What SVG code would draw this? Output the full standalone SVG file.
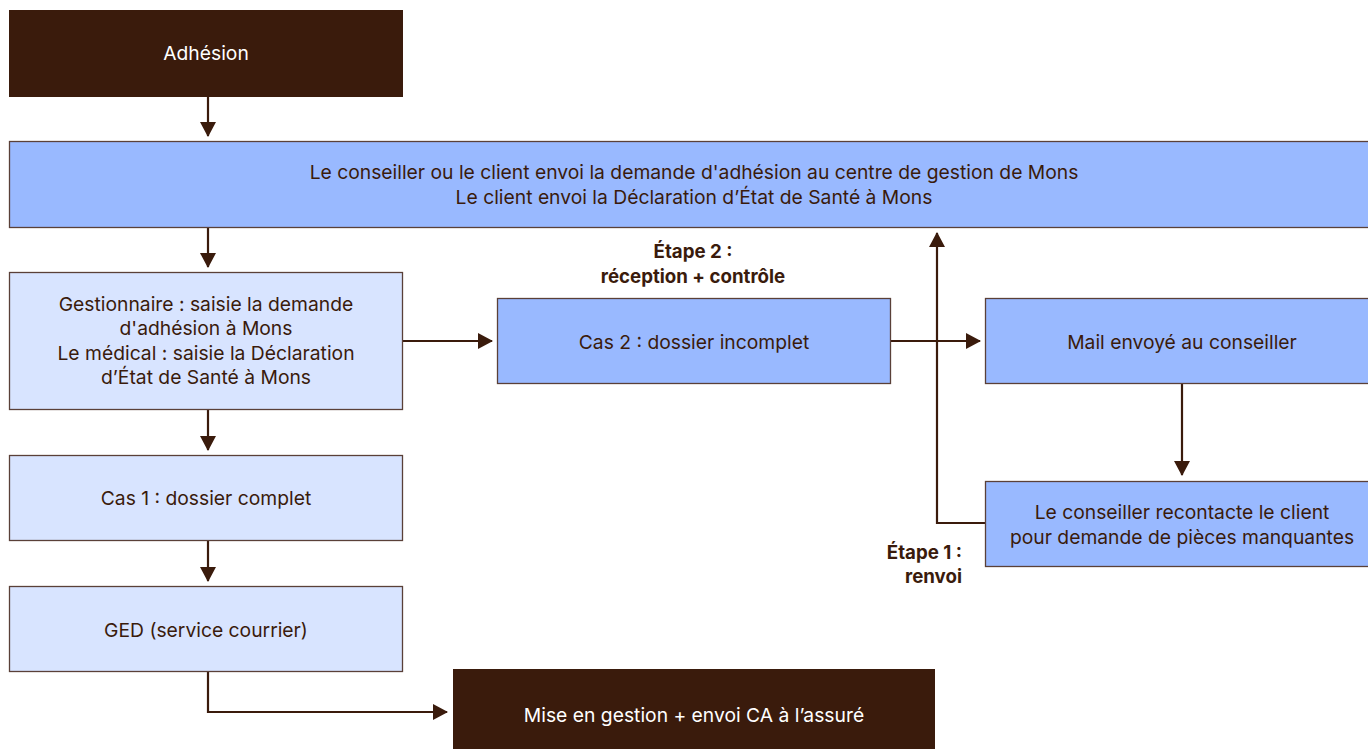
<svg xmlns="http://www.w3.org/2000/svg" width="1368" height="749" viewBox="0 0 1368 749">
<defs>
<marker id="ah" markerUnits="userSpaceOnUse" markerWidth="16" markerHeight="16" refX="14" refY="8" orient="auto">
<path d="M0,0 L15,8 L0,16 Z" fill="#3a1b0c"/>
</marker>
<style>
.dark{fill:#3a1b0c;stroke:#3a1b0c;stroke-width:1}
.blue{fill:#99b9ff;stroke:#5a4038;stroke-width:1.3}
.light{fill:#d8e4ff;stroke:#5a4038;stroke-width:1.3}
text{font-family:Inter,"Noto Sans","Liberation Sans",sans-serif;font-size:19.3px;text-anchor:middle}
.tw{fill:#ffffff}
.tb{fill:#3a1b0c}
.lbl{fill:#3a1b0c;font-weight:bold;font-size:18.7px}
.end{text-anchor:end}
.con{fill:none;stroke:#3a1b0c;stroke-width:2.2;marker-end:url(#ah)}
</style>
</defs>
<rect width="1368" height="749" fill="#ffffff"/>
<g id="connectors">
<path class="con" d="M208,96 V136"/>
<path class="con" d="M208,227 V267"/>
<path class="con" d="M402,341 H492"/>
<path class="con" d="M890,341 H980"/>
<path class="con" d="M1182,383 V475"/>
<path class="con" d="M985,523 H937 V233"/>
<path class="con" d="M208,671 V712 H447"/>
<path class="con" d="M208,410 V450"/>
<path class="con" d="M208,541 V581"/>
</g>
<g id="n-adhesion">
<rect class="dark" x="9.5" y="10.5" width="393" height="86"/>
<text class="tw" x="206" y="60">Adhésion</text>
</g>
<g id="n-envoi">
<rect class="blue" x="9.5" y="141.5" width="1370" height="86"/>
<text class="tb" x="694" y="179">Le conseiller ou le client envoi la demande d'adhésion au centre de gestion de Mons</text>
<text class="tb" x="694" y="204">Le client envoi la Déclaration d’État de Santé à Mons</text>
</g>
<g id="n-gestionnaire">
<rect class="light" x="9.5" y="272.5" width="393" height="137"/>
<text class="tb" x="206" y="311">Gestionnaire : saisie la demande</text>
<text class="tb" x="206" y="335">d'adhésion à Mons</text>
<text class="tb" x="206" y="360">Le médical : saisie la Déclaration</text>
<text class="tb" x="206" y="384">d’État de Santé à Mons</text>
</g>
<g id="n-cas2">
<rect class="blue" x="497.5" y="298.5" width="393" height="85"/>
<text class="tb" x="694" y="349">Cas 2 : dossier incomplet</text>
</g>
<g id="l-etape2">
<text class="lbl" x="693" y="258">Étape 2 :</text>
<text class="lbl" x="693" y="283">réception + contrôle</text>
</g>
<g id="n-mail">
<rect class="blue" x="985.5" y="298.5" width="390" height="85"/>
<text class="tb" x="1182" y="349">Mail envoyé au conseiller</text>
</g>
<g id="n-recontacte">
<rect class="blue" x="985.5" y="481.5" width="390" height="85"/>
<text class="tb" x="1182" y="519">Le conseiller recontacte le client</text>
<text class="tb" x="1182" y="544">pour demande de pièces manquantes</text>
</g>
<g id="l-etape1">
<text class="lbl end" x="962" y="559">Étape 1 :</text>
<text class="lbl end" x="962" y="583">renvoi</text>
</g>
<g id="n-cas1">
<rect class="light" x="9.5" y="455.5" width="393" height="85"/>
<text class="tb" x="206" y="505">Cas 1 : dossier complet</text>
</g>
<g id="n-ged">
<rect class="light" x="9.5" y="586.5" width="393" height="85"/>
<text class="tb" x="206" y="637">GED (service courrier)</text>
</g>
<g id="n-mise">
<rect class="dark" x="453.5" y="669.5" width="481" height="85"/>
<text class="tw" x="694" y="722">Mise en gestion + envoi CA à l’assuré</text>
</g>
</svg>
